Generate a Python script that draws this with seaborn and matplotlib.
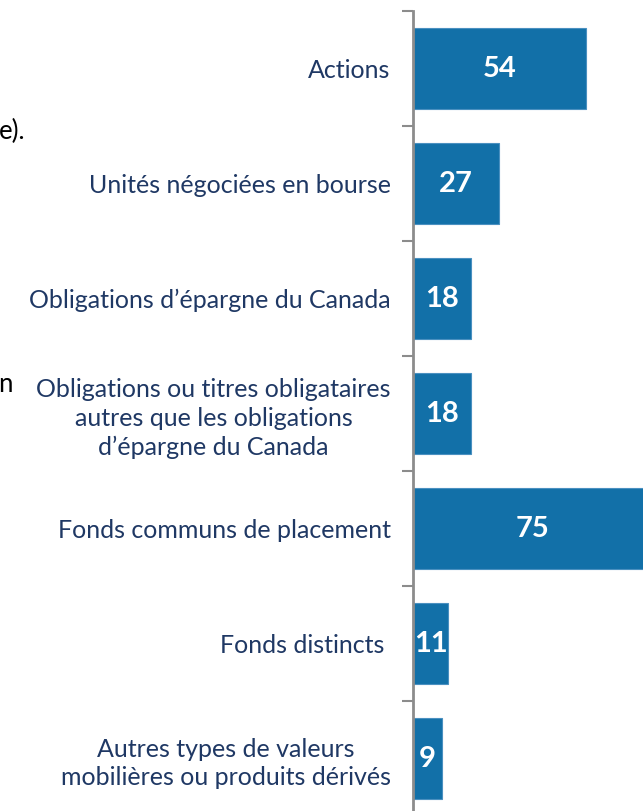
import matplotlib.pyplot as plt
import seaborn as sns
import numpy as np

# Daten
categories = [
    "Actions",
    "Unités négociées en bourse",
    "Obligations d\u2019épargne du Canada",
    "Obligations ou titres obligataires\nautres que les obligations\nd\u2019épargne du Canada",
    "Fonds communs de placement",
    "Fonds distincts ",
    "Autres types de valeurs\nmobilières ou produits dérivés",
]
values = [54, 27, 18, 18, 75, 11, 9]

bar_color = "#1270A8"
text_color = "#1F3864"

sns.set_theme(style="white")
plt.rcParams["font.family"] = ["Lato", "DejaVu Sans"]

W, H = 643, 811
fig = plt.figure(figsize=(W / 100, H / 100), dpi=100)
ax = fig.add_axes([413 / W, -5 / H, 230 / W, 805 / H])

sns.barplot(x=values, y=categories, orient="h", color=bar_color,
            saturation=1, width=0.71, edgecolor="#4A90C0", linewidth=0.8, ax=ax)

ax.set_xlim(0, 71.9)
ax.set_ylim(6.5, -0.5)

# Werte in den Balken
for i, v in enumerate(values):
    ax.text(v / 2, i, str(v), color="white", fontsize=21, fontweight="bold",
            ha="center", va="center")

# Achse: Kategorien in der Mitte, Striche an den Grenzen
ax.set_yticks(np.arange(len(categories)))
ax.set_yticklabels(categories, fontsize=18, color=text_color)
for lab in ax.get_yticklabels():
    lab.set_multialignment("center")
    lab.set_linespacing(1.3)
ax.tick_params(axis="y", which="major", length=0, pad=16)
ax.set_yticks(np.arange(-0.5, len(categories)), minor=True)
ax.tick_params(axis="y", which="minor", length=8, width=1.5, color="#8C8C8C", left=True)
ax.set_xticks([])
ax.set_xlabel("")
ax.set_ylabel("")

for s in ["top", "right", "bottom"]:
    ax.spines[s].set_visible(False)
ax.spines["left"].set_color("#8C8C8C")
ax.spines["left"].set_linewidth(2)

# abgeschnittene Textreste vom linken Rand
fig.text(25 / W, 1 - 131 / H, "e).", ha="right", va="center", fontsize=18.5, color="black")
fig.text(13 / W, 1 - 384 / H, "n", ha="right", va="center", fontsize=18.5, color="black")

fig.savefig("out.png", dpi=100)
